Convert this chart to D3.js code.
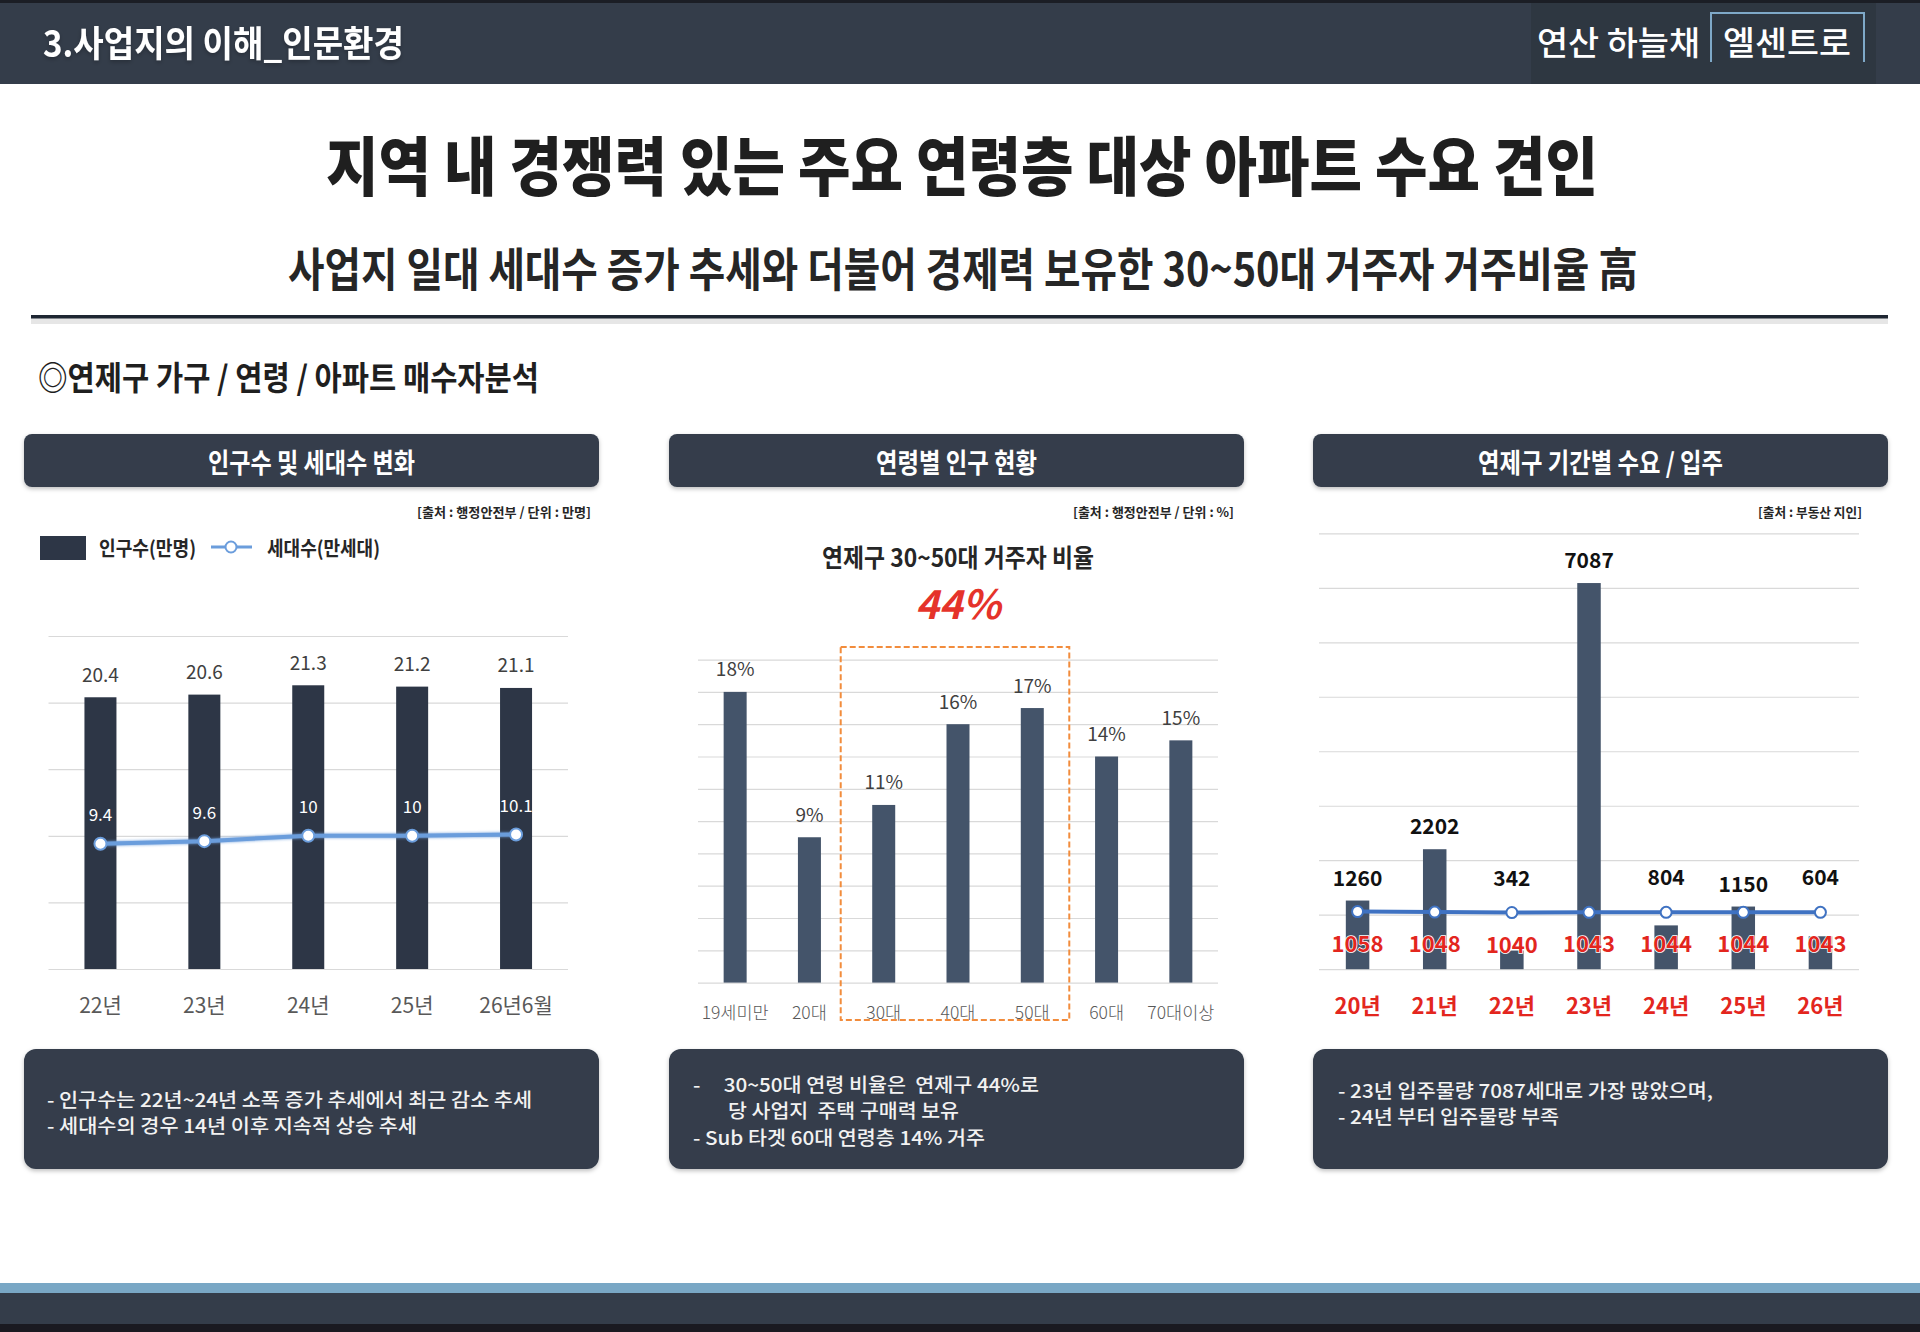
<!DOCTYPE html>
<html>
<head>
<meta charset="utf-8">
<script src="https://cdn.jsdelivr.net/npm/d3@7"></script>
<style>
  html, body { margin: 0; padding: 0; background: #fff; }
  svg { display: block; }
  text { font-family: "Noto Sans CJK KR", "Noto Sans", sans-serif; white-space: pre; }
</style>
</head>
<body>
<svg id="page" width="1920" height="1332"></svg>
<script>
// ---- data ----
const popYears = ['22년', '23년', '24년', '25년', '26년6월'];
const population = [20.4, 20.6, 21.3, 21.2, 21.1];
const households = [9.4, 9.6, 10, 10, 10.1];
const popTicks = [0, 5, 10, 15, 20, 25];

const ageGroups = ['19세미만', '20대', '30대', '40대', '50대', '60대', '70대이상'];
const ageShare = [18, 9, 11, 16, 17, 14, 15];
const ageTicks = [0, 2, 4, 6, 8, 10, 12, 14, 16, 18, 20];
const highlightGroups = ['30대', '40대', '50대'];

const supplyYears = ['20년', '21년', '22년', '23년', '24년', '25년', '26년'];
const supply = [1260, 2202, 342, 7087, 804, 1150, 604];
const demand = [1058, 1048, 1040, 1043, 1044, 1044, 1043];
const supplyTicks = [0, 1000, 2000, 3000, 4000, 5000, 6000, 7000, 8000];

const panelTitles = ['인구수 및 세대수 변화', '연령별 인구 현황', '연제구 기간별 수요 / 입주'];
const sources = ['[출처 : 행정안전부 / 단위 : 만명]', '[출처 : 행정안전부 / 단위 : %]', '[출처 : 부동산 지인]'];
const notes = [
  ['- 인구수는 22년~24년 소폭 증가 추세에서 최근 감소 추세', '- 세대수의 경우 14년 이후 지속적 상승 추세'],
  ['-     30~50대 연령 비율은  연제구 44%로', '당 사업지  주택 구매력 보유', '- Sub 타겟 60대 연령층 14% 거주'],
  ['- 23년 입주물량 7087세대로 가장 많았으며,', '- 24년 부터 입주물량 부족']
];

const Navy = '#343d4b';
const GridColor = '#d9d9d9';

const svg = d3.select('#page');
const defs = svg.append('defs');
const shadow = defs.append('filter').attr('id', 'shadow')
  .attr('x', '-5%').attr('y', '-20%').attr('width', '110%').attr('height', '160%');
shadow.append('feDropShadow').attr('dx', 0).attr('dy', 2).attr('stdDeviation', 2)
  .attr('flood-color', '#000').attr('flood-opacity', 0.25);
const glow = defs.append('filter').attr('id', 'glow')
  .attr('x', '-20%').attr('y', '-50%').attr('width', '140%').attr('height', '200%');
glow.append('feGaussianBlur').attr('stdDeviation', 1.5).attr('result', 'b');
const merge = glow.append('feMerge');
merge.append('feMergeNode').attr('in', 'b');
merge.append('feMergeNode').attr('in', 'SourceGraphic');

const fitText = (sel, length) => sel
  .attr('textLength', length)
  .attr('lengthAdjust', 'spacingAndGlyphs');

// ---- page frame ----
svg.append('rect').attr('width', 1920).attr('height', 84).attr('fill', '#343d4a');
svg.append('rect').attr('width', 1920).attr('height', 3).attr('fill', '#1b1e25');
svg.append('rect').attr('x', 1531).attr('y', 3).attr('width', 345).attr('height', 81).attr('fill', '#2e3741');
svg.append('text').attr('x', 43).attr('y', 41).attr('dominant-baseline', 'central')
  .attr('fill', '#fff').attr('font-size', 36).attr('font-weight', 700)
  .attr('filter', 'url(#shadow)')
  .text('3.사업지의 이해_인문환경').call(fitText, 361);
svg.append('text').attr('x', 1537).attr('y', 41).attr('dominant-baseline', 'central')
  .attr('fill', '#fff').attr('font-size', 33).attr('font-weight', 500)
  .text('연산 하늘채').call(fitText, 163);
svg.append('path').attr('d', 'M1711,62 V13 H1864 V62')
  .attr('fill', 'none').attr('stroke', '#7fa9c8').attr('stroke-width', 2);
svg.append('text').attr('x', 1723).attr('y', 41).attr('dominant-baseline', 'central')
  .attr('fill', '#fff').attr('font-size', 33).attr('font-weight', 500)
  .text('엘센트로').call(fitText, 128);

svg.append('text').attr('x', 962).attr('y', 162).attr('text-anchor', 'middle')
  .attr('dominant-baseline', 'central').attr('fill', '#1f1f1f')
  .attr('font-size', 64).attr('font-weight', 900)
  .text('지역 내 경쟁력 있는 주요 연령층 대상 아파트 수요 견인').call(fitText, 1272);
svg.append('text').attr('x', 963).attr('y', 266).attr('text-anchor', 'middle')
  .attr('dominant-baseline', 'central').attr('fill', '#262626')
  .attr('font-size', 46).attr('font-weight', 700)
  .text('사업지 일대 세대수 증가 추세와 더불어 경제력 보유한 30~50대 거주자 거주비율 高').call(fitText, 1350);
svg.append('rect').attr('x', 31).attr('y', 318).attr('width', 1857).attr('height', 6).attr('fill', '#e6e6e6');
svg.append('rect').attr('x', 31).attr('y', 315).attr('width', 1857).attr('height', 3.5).attr('fill', '#1e2632');
svg.append('text').attr('x', 38).attr('y', 376).attr('dominant-baseline', 'central')
  .attr('fill', '#1f1f1f').attr('font-size', 33).attr('font-weight', 700)
  .text('◎연제구 가구 / 연령 / 아파트 매수자분석').call(fitText, 501);

svg.append('rect').attr('y', 1283).attr('width', 1920).attr('height', 10).attr('fill', '#79a7c5');
svg.append('rect').attr('y', 1293).attr('width', 1920).attr('height', 31).attr('fill', '#343d4a');
svg.append('rect').attr('y', 1324).attr('width', 1920).attr('height', 8).attr('fill', '#1a1a21');

// ---- panels: headers, sources, note boxes ----
const panelX = [24, 669, 1313];
const panelW = 575;
const sourceRight = [591, 1234, 1862];
const sourceWidth = [174, 161, 104];
const titleWidth = [207, 161, 245];
const noteLayout = [
  [{ x: 47, y: 1098, w: 485 }, { x: 47, y: 1124, w: 370 }],
  [{ x: 693, y: 1083, w: 346 }, { x: 728, y: 1109, w: 231 }, { x: 693, y: 1136, w: 292 }],
  [{ x: 1338, y: 1089, w: 375 }, { x: 1338, y: 1115, w: 221 }]
];

panelX.forEach((px, i) => {
  svg.append('rect').attr('x', px).attr('y', 434).attr('width', panelW).attr('height', 53)
    .attr('rx', 8).attr('fill', Navy).attr('filter', 'url(#shadow)');
  svg.append('text').attr('x', px + panelW / 2).attr('y', 461).attr('text-anchor', 'middle')
    .attr('dominant-baseline', 'central').attr('fill', '#fff')
    .attr('font-size', 27).attr('font-weight', 700)
    .text(panelTitles[i]).call(fitText, titleWidth[i]);
  svg.append('text').attr('x', sourceRight[i]).attr('y', 511).attr('text-anchor', 'end')
    .attr('dominant-baseline', 'central').attr('fill', '#262626')
    .attr('font-size', 13).attr('font-weight', 700)
    .text(sources[i]).call(fitText, sourceWidth[i]);

  svg.append('rect').attr('x', px).attr('y', 1049).attr('width', panelW).attr('height', 120)
    .attr('rx', 12).attr('fill', Navy).attr('filter', 'url(#shadow)');
  notes[i].forEach((line, j) => {
    const l = noteLayout[i][j];
    svg.append('text').attr('x', l.x).attr('y', l.y).attr('dominant-baseline', 'central')
      .attr('fill', '#f2f2f2').attr('font-size', 19).attr('font-weight', 500)
      .text(line).call(fitText, l.w);
  });
});

const drawGrid = (g, y, ticks, x0, x1) => {
  g.append('g')
    .attr('transform', `translate(${x0},0)`)
    .call(d3.axisLeft(y).tickValues(ticks).tickSize(-(x1 - x0)).tickFormat(''))
    .call(a => a.select('.domain').remove())
    .call(a => a.selectAll('line').attr('stroke', GridColor).attr('stroke-width', 1.2));
};

// ---- chart 1: population & households ----
{
  const g = svg.append('g');
  const x = d3.scaleBand().domain(popYears).range([48.5, 568]);
  const y = d3.scaleLinear().domain([0, 25]).range([969, 636]);
  drawGrid(g, y, popTicks, 48.5, 568);
  const bw = 32;
  const cx = d => x(d) + x.bandwidth() / 2;

  g.selectAll('rect.bar').data(popYears).enter().append('rect')
    .attr('x', d => cx(d) - bw / 2)
    .attr('y', (d, i) => y(population[i]))
    .attr('width', bw)
    .attr('height', (d, i) => y(0) - y(population[i]))
    .attr('fill', '#2d3646');
  g.selectAll('text.val').data(popYears).enter().append('text')
    .attr('x', cx).attr('y', (d, i) => y(population[i]) - 24)
    .attr('text-anchor', 'middle').attr('dominant-baseline', 'central')
    .attr('font-family', '"Open Sans", sans-serif')
    .attr('font-size', 19).attr('fill', '#404040')
    .text((d, i) => population[i]);

  const line = d3.line().x((d, i) => cx(popYears[i])).y(d => y(d));
  g.append('path').datum(households).attr('d', line)
    .attr('fill', 'none').attr('stroke', '#6b9ddc').attr('stroke-width', 4)
    .attr('filter', 'url(#glow)');
  g.selectAll('circle').data(households).enter().append('circle')
    .attr('cx', (d, i) => cx(popYears[i])).attr('cy', d => y(d)).attr('r', 6)
    .attr('fill', '#fff').attr('stroke', '#6b9ddc').attr('stroke-width', 2);
  g.selectAll('text.hh').data(households).enter().append('text')
    .attr('x', (d, i) => cx(popYears[i])).attr('y', d => y(d) - 30)
    .attr('text-anchor', 'middle').attr('dominant-baseline', 'central')
    .attr('font-family', '"Open Sans", sans-serif')
    .attr('font-size', 17).attr('fill', '#fff')
    .text(d => d);

  g.selectAll('text.xl').data(popYears).enter().append('text')
    .attr('x', cx).attr('y', 1004)
    .attr('text-anchor', 'middle').attr('dominant-baseline', 'central')
    .attr('font-size', 21).attr('fill', '#595959')
    .text(d => d);

  // legend
  g.append('rect').attr('x', 40).attr('y', 536).attr('width', 46).attr('height', 24).attr('fill', '#2d3646');
  g.append('text').attr('x', 99).attr('y', 547).attr('dominant-baseline', 'central')
    .attr('font-size', 20).attr('font-weight', 700).attr('fill', '#262626')
    .text('인구수(만명)').call(fitText, 97);
  g.append('line').attr('x1', 211).attr('x2', 252).attr('y1', 547).attr('y2', 547)
    .attr('stroke', '#6b9ddc').attr('stroke-width', 3);
  g.append('circle').attr('cx', 231).attr('cy', 547).attr('r', 5.5)
    .attr('fill', '#fff').attr('stroke', '#6b9ddc').attr('stroke-width', 2);
  g.append('text').attr('x', 267).attr('y', 547).attr('dominant-baseline', 'central')
    .attr('font-size', 20).attr('font-weight', 700).attr('fill', '#262626')
    .text('세대수(만세대)').call(fitText, 113);
}

// ---- chart 2: age groups ----
{
  const g = svg.append('g');
  const x = d3.scaleBand().domain(ageGroups).range([698, 1218]);
  const y = d3.scaleLinear().domain([0, 20]).range([982.6, 659.6]);
  drawGrid(g, y, ageTicks, 698, 1218);
  const bw = 23;
  const cx = d => x(d) + x.bandwidth() / 2;

  g.append('text').attr('x', 958).attr('y', 556).attr('text-anchor', 'middle')
    .attr('dominant-baseline', 'central').attr('fill', '#262626')
    .attr('font-size', 25).attr('font-weight', 700)
    .text('연제구 30~50대 거주자 비율').call(fitText, 272);
  const share = d3.sum(highlightGroups, k => ageShare[ageGroups.indexOf(k)]);
  g.append('text').attr('x', 958).attr('y', 602).attr('text-anchor', 'middle')
    .attr('dominant-baseline', 'central').attr('fill', '#e5332a')
    .attr('font-size', 40).attr('font-weight', 700).attr('font-style', 'italic')
    .attr('font-family', '"Open Sans", sans-serif')
    .text(share + '%');

  g.selectAll('rect.bar').data(ageGroups).enter().append('rect')
    .attr('x', d => cx(d) - bw / 2)
    .attr('y', (d, i) => y(ageShare[i]))
    .attr('width', bw)
    .attr('height', (d, i) => y(0) - y(ageShare[i]))
    .attr('fill', '#44546a');
  g.selectAll('text.val').data(ageGroups).enter().append('text')
    .attr('x', cx).attr('y', (d, i) => y(ageShare[i]) - 24)
    .attr('text-anchor', 'middle').attr('dominant-baseline', 'central')
    .attr('font-family', '"Open Sans", sans-serif')
    .attr('font-size', 19).attr('fill', '#404040')
    .text((d, i) => ageShare[i] + '%');
  g.selectAll('text.xl').data(ageGroups).enter().append('text')
    .attr('x', cx).attr('y', 1011)
    .attr('text-anchor', 'middle').attr('dominant-baseline', 'central')
    .attr('font-size', 17.5).attr('font-weight', 300).attr('fill', '#595959')
    .text(d => d);

  // dashed frame round the 30~50 groups
  const first = highlightGroups[0];
  const last = highlightGroups[highlightGroups.length - 1];
  const fx0 = cx(first) - 43;
  const fx1 = cx(last) + 37;
  g.append('rect').attr('x', fx0).attr('y', 647)
    .attr('width', fx1 - fx0).attr('height', 373)
    .attr('fill', 'none').attr('stroke', '#f28c3c').attr('stroke-width', 2)
    .attr('stroke-dasharray', '6,3');
}

// ---- chart 3: supply / demand ----
{
  const g = svg.append('g');
  const x = d3.scaleBand().domain(supplyYears).range([1319, 1859]);
  const y = d3.scaleLinear().domain([0, 8000]).range([969.2, 533.3]);
  drawGrid(g, y, supplyTicks, 1319, 1859);
  const bw = 23.5;
  const cx = d => x(d) + x.bandwidth() / 2;

  g.selectAll('rect.bar').data(supplyYears).enter().append('rect')
    .attr('x', d => cx(d) - bw / 2)
    .attr('y', (d, i) => y(supply[i]))
    .attr('width', bw)
    .attr('height', (d, i) => y(0) - y(supply[i]))
    .attr('fill', '#44546a');

  const line = d3.line().x((d, i) => cx(supplyYears[i])).y(d => y(d));
  g.append('path').datum(demand).attr('d', line)
    .attr('fill', 'none').attr('stroke', '#3f72c2').attr('stroke-width', 4);
  g.selectAll('circle').data(demand).enter().append('circle')
    .attr('cx', (d, i) => cx(supplyYears[i])).attr('cy', d => y(d)).attr('r', 5.5)
    .attr('fill', '#fff').attr('stroke', '#3f72c2').attr('stroke-width', 2);

  g.selectAll('text.val').data(supplyYears).enter().append('text')
    .attr('x', cx)
    .attr('y', (d, i) => {
      const barTop = y(supply[i]);
      const lineY = y(demand[i]);
      return barTop < lineY ? barTop - 24 : lineY - 36;
    })
    .attr('text-anchor', 'middle').attr('dominant-baseline', 'central')
    .attr('font-size', 21).attr('font-weight', 700).attr('fill', '#111')
    .text((d, i) => supply[i]);
  g.selectAll('text.dem').data(demand).enter().append('text')
    .attr('x', (d, i) => cx(supplyYears[i])).attr('y', d => y(d) + 30)
    .attr('text-anchor', 'middle').attr('dominant-baseline', 'central')
    .attr('font-size', 22).attr('font-weight', 700).attr('fill', '#e3261e')
    .attr('stroke', '#fff').attr('stroke-width', 1.5).attr('paint-order', 'stroke')
    .text(d => d);
  g.selectAll('text.xl').data(supplyYears).enter().append('text')
    .attr('x', cx).attr('y', 1004)
    .attr('text-anchor', 'middle').attr('dominant-baseline', 'central')
    .attr('font-size', 22).attr('font-weight', 700).attr('fill', '#e3261e')
    .text(d => d);
}
</script>
</body>
</html>
